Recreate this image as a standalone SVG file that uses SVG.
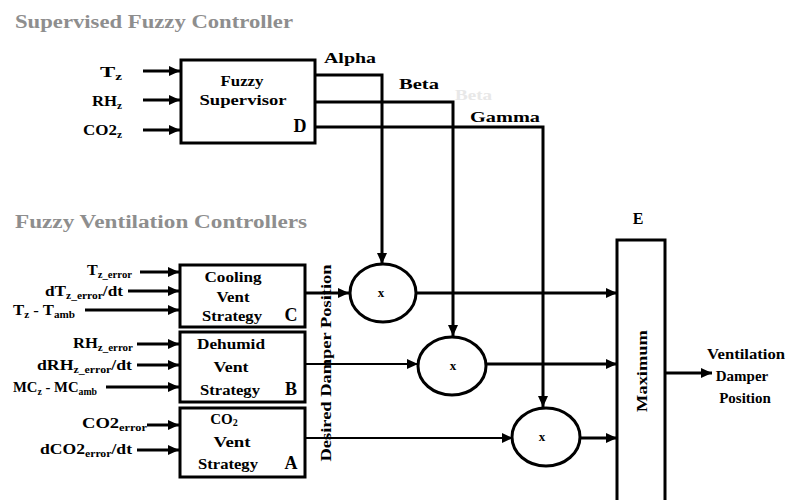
<svg xmlns="http://www.w3.org/2000/svg" width="790" height="500" viewBox="0 0 790 500">
<style>
text{font-family:"Liberation Serif","Times New Roman",serif;font-weight:bold;fill:#000}
.title{font-size:18px;fill:#8e8e8e}
.lbl{font-size:15px}
.box{font-size:15px;text-anchor:middle}
.sub{font-size:10px}
.ln{stroke:#000;stroke-width:3;fill:none}
.thin{stroke:#000;stroke-width:2;fill:none}
.shape{stroke:#000;stroke-width:3;fill:#fff}
</style>
<defs>
<marker id="ah" markerUnits="userSpaceOnUse" markerWidth="12" markerHeight="12" refX="11" refY="6" orient="auto">
<path d="M0,1 L11,6 L0,11 Z" fill="#000"/>
</marker>
</defs>
<rect width="790" height="500" fill="#fff"/>

<text class="title" x="15" y="28" textLength="278" lengthAdjust="spacingAndGlyphs">Supervised Fuzzy Controller</text>
<text class="title" x="15" y="228" textLength="292" lengthAdjust="spacingAndGlyphs">Fuzzy Ventilation Controllers</text>

<g id="connectors">
<line class="ln" x1="143" y1="71" x2="180" y2="71" marker-end="url(#ah)"/>
<line class="ln" x1="143" y1="100" x2="180" y2="100" marker-end="url(#ah)"/>
<line class="ln" x1="143" y1="130" x2="180" y2="130" marker-end="url(#ah)"/>
<polyline class="ln" points="315,75 382,75 382,264" marker-end="url(#ah)"/>
<polyline class="ln" points="315,102 453,102 453,336" marker-end="url(#ah)"/>
<polyline class="ln" points="315,127 543,127 543,407" marker-end="url(#ah)"/>
<line class="ln" x1="140" y1="272" x2="179" y2="272" marker-end="url(#ah)"/>
<line class="ln" x1="128" y1="291" x2="179" y2="291" marker-end="url(#ah)"/>
<line class="ln" x1="85" y1="310" x2="179" y2="310" marker-end="url(#ah)"/>
<line class="ln" x1="137" y1="344" x2="179" y2="344" marker-end="url(#ah)"/>
<line class="ln" x1="137" y1="365" x2="179" y2="365" marker-end="url(#ah)"/>
<line class="ln" x1="106" y1="387" x2="179" y2="387" marker-end="url(#ah)"/>
<line class="ln" x1="147" y1="425" x2="179" y2="425" marker-end="url(#ah)"/>
<line class="ln" x1="137" y1="450" x2="179" y2="450" marker-end="url(#ah)"/>
<line class="ln" x1="305" y1="293" x2="349" y2="293" marker-end="url(#ah)"/>
<line class="thin" x1="305" y1="364" x2="418" y2="364" marker-end="url(#ah)"/>
<line class="thin" x1="305" y1="438" x2="513" y2="438" marker-end="url(#ah)"/>
<line class="ln" x1="417" y1="293" x2="617" y2="293" marker-end="url(#ah)"/>
<line class="ln" x1="487" y1="364" x2="617" y2="364" marker-end="url(#ah)"/>
<line class="ln" x1="580" y1="438" x2="617" y2="438" marker-end="url(#ah)"/>
<line class="ln" x1="665" y1="373" x2="712" y2="373" marker-end="url(#ah)"/>
</g>

<g id="labels">
<text class="lbl" x="100" y="77" textLength="22" lengthAdjust="spacingAndGlyphs">T<tspan class="sub" dy="3">z</tspan></text>
<text class="lbl" x="92" y="106" textLength="30" lengthAdjust="spacingAndGlyphs">RH<tspan class="sub" dy="3">z</tspan></text>
<text class="lbl" x="83" y="135" textLength="39" lengthAdjust="spacingAndGlyphs">CO2<tspan class="sub" dy="3">z</tspan></text>
<text class="lbl" x="324" y="63" textLength="52" lengthAdjust="spacingAndGlyphs">Alpha</text>
<text class="lbl" x="399" y="89" textLength="40" lengthAdjust="spacingAndGlyphs">Beta</text>
<text class="lbl" x="455" y="100" textLength="37" lengthAdjust="spacingAndGlyphs" style="fill:#e8e8e8">Beta</text>
<text class="lbl" x="470" y="122" textLength="70" lengthAdjust="spacingAndGlyphs">Gamma</text>
<text class="lbl" x="87" y="275" textLength="45" lengthAdjust="spacingAndGlyphs">T<tspan class="sub" dy="3">z_error</tspan></text>
<text class="lbl" x="45" y="296" textLength="78" lengthAdjust="spacingAndGlyphs">dT<tspan class="sub" dy="3">z_error</tspan><tspan dy="-3">/dt</tspan></text>
<text class="lbl" x="13" y="315" textLength="62" lengthAdjust="spacingAndGlyphs">T<tspan class="sub" dy="3">z</tspan><tspan dy="-3"> - T</tspan><tspan class="sub" dy="3">amb</tspan></text>
<text class="lbl" x="73" y="348" textLength="60" lengthAdjust="spacingAndGlyphs">RH<tspan class="sub" dy="3">z_error</tspan></text>
<text class="lbl" x="37" y="370" textLength="95" lengthAdjust="spacingAndGlyphs">dRH<tspan class="sub" dy="3">z_error</tspan><tspan dy="-3">/dt</tspan></text>
<text class="lbl" x="13" y="392" textLength="84" lengthAdjust="spacingAndGlyphs">MC<tspan class="sub" dy="3">z</tspan><tspan dy="-3"> - MC</tspan><tspan class="sub" dy="3">amb</tspan></text>
<text class="lbl" x="82" y="428" textLength="65" lengthAdjust="spacingAndGlyphs">CO2<tspan class="sub" dy="3">error</tspan></text>
<text class="lbl" x="40" y="454" textLength="92" lengthAdjust="spacingAndGlyphs">dCO2<tspan class="sub" dy="3">error</tspan><tspan dy="-3">/dt</tspan></text>
<text class="box" transform="translate(331,363) rotate(-90)" textLength="197" lengthAdjust="spacingAndGlyphs">Desired Damper Position</text>
<text class="box" x="746" y="359" textLength="78" lengthAdjust="spacingAndGlyphs">Ventilation</text>
<text class="box" x="742" y="381">Damper</text>
<text class="box" x="745" y="403">Position</text>
</g>

<g id="D">
<rect class="shape" x="181" y="60" width="134" height="83"/>
<text class="box" x="242" y="86" textLength="43" lengthAdjust="spacingAndGlyphs">Fuzzy</text>
<text class="box" x="243" y="105" textLength="87" lengthAdjust="spacingAndGlyphs">Supervisor</text>
<text class="box" x="300" y="132" style="font-size:18px">D</text>
</g>

<g id="C">
<rect class="shape" x="180" y="265" width="125" height="62"/>
<text class="box" x="233" y="282" textLength="57" lengthAdjust="spacingAndGlyphs">Cooling</text>
<text class="box" x="233" y="302" textLength="33" lengthAdjust="spacingAndGlyphs">Vent</text>
<text class="box" x="232" y="321" textLength="60" lengthAdjust="spacingAndGlyphs">Strategy</text>
<text class="box" x="291" y="321" style="font-size:18px">C</text>
</g>

<g id="B">
<rect class="shape" x="180" y="332" width="125" height="70"/>
<text class="box" x="231" y="349" textLength="68" lengthAdjust="spacingAndGlyphs">Dehumid</text>
<text class="box" x="231" y="372" textLength="35" lengthAdjust="spacingAndGlyphs">Vent</text>
<text class="box" x="230" y="395" textLength="60" lengthAdjust="spacingAndGlyphs">Strategy</text>
<text class="box" x="291" y="395" style="font-size:18px">B</text>
</g>

<g id="A">
<rect class="shape" x="180" y="408" width="125" height="69"/>
<text class="box" x="224" y="424">CO<tspan class="sub" dy="2">2</tspan></text>
<text class="box" x="232" y="447" textLength="37" lengthAdjust="spacingAndGlyphs">Vent</text>
<text class="box" x="228" y="469" textLength="60" lengthAdjust="spacingAndGlyphs">Strategy</text>
<text class="box" x="291" y="469" style="font-size:18px">A</text>
</g>

<g id="mult1">
<ellipse class="shape" cx="383" cy="293" rx="33" ry="29"/>
<text class="box" x="381" y="297" style="font-size:13px">x</text>
</g>
<g id="mult2">
<ellipse class="shape" cx="452" cy="366" rx="34" ry="29"/>
<text class="box" x="453" y="370" style="font-size:13px">x</text>
</g>
<g id="mult3">
<ellipse class="shape" cx="546" cy="437" rx="34" ry="29"/>
<text class="box" x="542" y="441" style="font-size:13px">x</text>
</g>

<g id="E">
<rect class="shape" x="617" y="240" width="48" height="275"/>
<text class="box" x="638" y="224" style="font-size:16px">E</text>
<text class="box" transform="translate(647,371) rotate(-90)" textLength="82" lengthAdjust="spacingAndGlyphs">Maximum</text>
</g>
</svg>
